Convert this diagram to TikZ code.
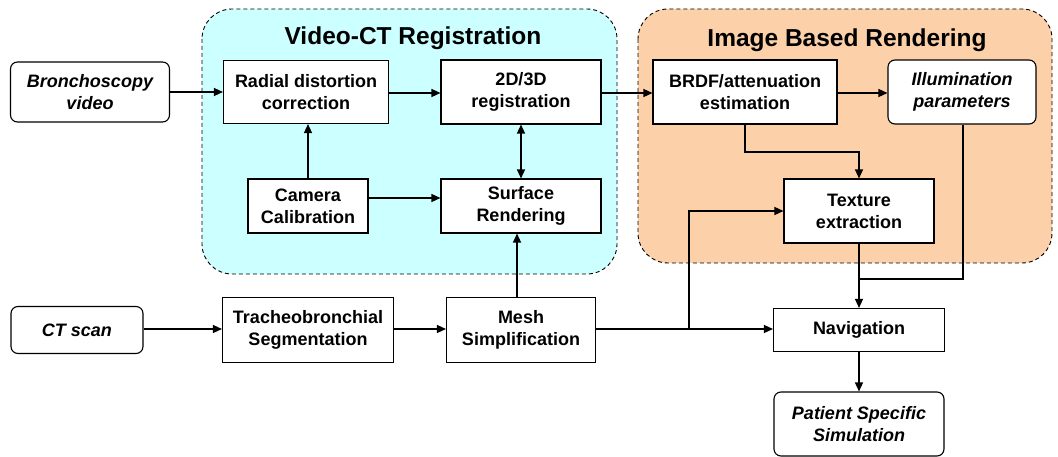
\documentclass[tikz,border=0pt]{standalone}
\usepackage{fontspec}
\setmainfont{Liberation Sans}
\usetikzlibrary{arrows.meta}
\definecolor{regcyan}{RGB}{204,255,255}
\definecolor{ibrorange}{RGB}{252,208,168}
\tikzset{
  procbox/.style={draw, line width=1.1pt, fill=white, align=center,
    font=\fontsize{18}{22}\selectfont\bfseries, inner sep=0pt},
  databox/.style={procbox, rounded corners=7pt, font=\fontsize{18}{22}\selectfont\bfseries\itshape},
  region/.style={draw, dash pattern=on 4pt off 3pt, line width=0.9pt, rounded corners=30pt},
  regtitle/.style={font=\fontsize{24.5}{28}\selectfont\bfseries},
  flow/.style={line width=1.3pt, -{Triangle[length=9pt,width=8pt]}},
  biflow/.style={line width=1.3pt, {Triangle[length=9pt,width=8pt]}-{Triangle[length=9pt,width=8pt]}},
  plain/.style={line width=1.3pt}
}
\begin{document}
\begin{tikzpicture}[x=1pt,y=-1pt]
\useasboundingbox (0,0) rectangle (1058,457);
% grouping regions
\draw[region, fill=regcyan] (202,9) rectangle (617,274);
\draw[region, fill=ibrorange] (638,9) rectangle (1052,263);
\node[regtitle] (tvct) at (413,38) {Video-CT Registration};
\node[regtitle] (tibr) at (847,40) {Image Based Rendering};
% inputs
\node[databox, minimum width=159, minimum height=60] (bronch) at (90,92) {Bronchoscopy\\video};
\node[databox, minimum width=132, minimum height=47] (ct) at (77,330) {CT scan};
% video-CT registration
\node[procbox, minimum width=165, minimum height=63] (radial) at (306,92) {Radial distortion\\correction};
\node[procbox, minimum width=160, minimum height=64] (reg) at (521,92) {2D/3D\\registration};
\node[procbox, minimum width=120, minimum height=54] (cam) at (308,206) {Camera\\Calibration};
\node[procbox, minimum width=160, minimum height=54] (surf) at (521,206) {Surface\\Rendering};
% image based rendering
\node[procbox, minimum width=184, minimum height=64] (brdf) at (745,92) {BRDF/attenuation\\estimation};
\node[databox, minimum width=148, minimum height=64] (illum) at (962,92) {Illumination\\parameters};
\node[procbox, minimum width=150, minimum height=64] (tex) at (859,211) {Texture\\extraction};
% CT pipeline
\node[procbox, minimum width=171, minimum height=65] (seg) at (308,330) {Tracheobronchial\\Segmentation};
\node[procbox, minimum width=149, minimum height=65] (mesh) at (521,330) {Mesh\\Simplification};
\node[procbox, minimum width=171, minimum height=43] (nav) at (859,330) {Navigation};
\node[databox, minimum width=170, minimum height=64] (sim) at (859,424) {Patient Specific\\Simulation};
% junction points
\coordinate (texin) at (689,211);
\coordinate (brdfjoin) at (745,152);
\coordinate (illjoin) at (963,279);
% connectors
\draw[flow] (bronch) -- (radial);
\draw[flow] (radial.east |- 0,93) -- (reg.west |- 0,93);
\draw[flow] (reg.east |- 0,93) -- (brdf.west |- 0,93);
\draw[flow] (brdf.east |- 0,93) -- (illum.west |- 0,93);
\draw[flow] (cam) -- (radial.south -| cam);
\draw[flow] (cam.east |- 0,198) -- (surf.west |- 0,198);
\draw[biflow] (reg) -- (surf);
\draw[flow] (mesh.north -| 517,0) -- (surf.south -| 517,0);
\draw[flow] (ct.east |- 0,329) -- (seg.west |- 0,329);
\draw[flow] (seg.east |- 0,329) -- (mesh.west |- 0,329);
\draw[flow] (mesh.east |- 0,329) -- (nav.west |- 0,329);
\draw[flow] (texin |- 0,329) -- (texin) -- (tex.west |- texin);
\draw[flow] (brdf.south -| brdfjoin) -- (brdfjoin) -| (tex.north);
\draw[flow] (tex) -- (nav);
\draw[plain] (illum.south -| illjoin) -- (illjoin) -- (nav.north |- illjoin);
\draw[flow] (nav) -- (sim);
\end{tikzpicture}
\end{document}
